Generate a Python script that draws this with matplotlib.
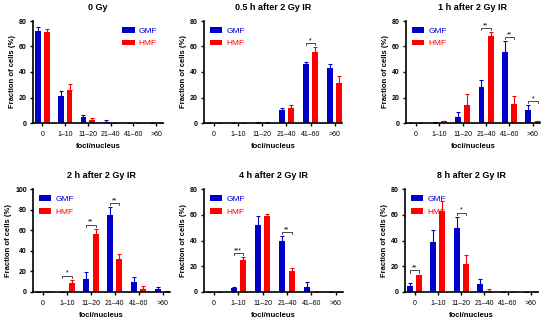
import matplotlib
matplotlib.use('Agg')
import matplotlib.pyplot as plt
import numpy as np

plt.rcParams['font.family'] = ['Liberation Sans', 'DejaVu Sans']

categories = ['0', '1\u201310', '11\u201320', '21\u201340', '41\u201360', '>60']
titles = ['0 Gy', '0.5 h after 2 Gy IR', '1 h after 2 Gy IR',
          '2 h after 2 Gy IR', '4 h after 2 Gy IR', '8 h after 2 Gy IR']

gmf_0 = [72, 21, 5, 1, 0, 0]
gmf_0_err = [3, 4, 1.5, 1, 0, 0]
hmf_0 = [71, 26, 2, 0, 0, 0]
hmf_0_err = [3, 4.5, 2, 0, 0, 0]

gmf_05 = [0, 0, 0.3, 10, 46, 43.5]
gmf_05_err = [0, 0, 0.2, 1.5, 2, 3]
hmf_05 = [0, 0, 0.3, 12, 56, 31.5]
hmf_05_err = [0, 0, 0.2, 2.5, 3.5, 5.5]

gmf_1 = [0, 0.3, 4.5, 28.5, 56, 10.5]
gmf_1_err = [0, 0.3, 4, 5.5, 8.5, 3.5]
hmf_1 = [0, 1.3, 14.5, 68, 15, 1.3]
hmf_1_err = [0, 0.5, 8, 3, 6.5, 0.5]

gmf_2 = [0, 0, 12.5, 75, 9.5, 3]
gmf_2_err = [0, 0, 6.5, 7.5, 5, 2]
hmf_2 = [0, 8.5, 56.5, 32, 3, 0.3]
hmf_2_err = [0, 3.5, 5, 5, 3, 0.3]

gmf_4 = [0, 3, 52, 40, 3.5, 0.3]
gmf_4_err = [0, 1, 7, 3.5, 4.5, 0]
hmf_4 = [0, 24.5, 59, 16, 0.3, 0]
hmf_4_err = [0, 2.5, 1.5, 2.5, 0, 0]

gmf_8 = [4.5, 38.5, 50, 6, 0, 0]
gmf_8_err = [2.5, 9.5, 8.5, 4, 0, 0]
hmf_8 = [13, 63, 22, 1, 0, 0]
hmf_8_err = [0.5, 8, 7, 1, 0, 0]

# significance marks: (category index, stars)
sig_0 = []
sig_05 = [(4, '*')]
sig_1 = [(3, '**'), (4, '**'), (5, '*')]
sig_2 = [(1, '*'), (2, '**'), (3, '**')]
sig_4 = [(1, '***'), (3, '**')]
sig_8 = [(0, '**'), (2, '*')]

panels = [
    (gmf_0, gmf_0_err, hmf_0, hmf_0_err, sig_0, 80),
    (gmf_05, gmf_05_err, hmf_05, hmf_05_err, sig_05, 80),
    (gmf_1, gmf_1_err, hmf_1, hmf_1_err, sig_1, 80),
    (gmf_2, gmf_2_err, hmf_2, hmf_2_err, sig_2, 100),
    (gmf_4, gmf_4_err, hmf_4, hmf_4_err, sig_4, 80),
    (gmf_8, gmf_8_err, hmf_8, hmf_8_err, sig_8, 80),
]

# pixel boxes (left, right, top, bottom)
boxes = [(33, 163, 21, 123), (204, 342, 21, 123), (406, 540, 21, 123),
         (33, 170, 189, 292), (204, 343, 189, 292), (405, 538, 189, 292)]
leg_loc = ['upper right', 'upper left', 'upper left',
           'upper left', 'upper left', 'upper left']

W, H = 550, 322
blue = '#0000cc'
red = '#ff0000'

fig = plt.figure(figsize=(5.5, 3.22), dpi=100)
x = np.arange(len(categories))
bw = 0.25
off = 0.195

for i, (g, ge, h, he, sig, ymax) in enumerate(panels):
    l, r, t, b = boxes[i]
    ax = fig.add_axes([l / W, (H - b) / H, (r - l) / W, (b - t) / H])
    ax.bar(x - off, g, bw, color=blue, label='GMF', zorder=2)
    ax.bar(x + off, h, bw, color=red, label='HMF', zorder=2)
    ax.errorbar(x - off, g, yerr=[np.zeros(len(g)), ge], fmt='none',
                ecolor=blue, elinewidth=0.8, capsize=1.5, capthick=0.8, zorder=1)
    ax.errorbar(x + off, h, yerr=[np.zeros(len(h)), he], fmt='none',
                ecolor=red, elinewidth=0.8, capsize=1.5, capthick=0.8, zorder=1)
    d = ymax / 50
    for k, s in sig:
        top = max(g[k] + ge[k], h[k] + he[k]) + 2 * d
        ax.plot([k - off, k - off, k + off, k + off], [top - d, top, top, top - d],
                color='black', lw=0.5)
        ax.text(k, top - 0.6 * d, s, ha='center', va='bottom', fontsize=5)
    ax.set_xlim(-0.41, 5.3)
    ax.set_ylim(0, ymax)
    ax.set_yticks(np.arange(0, ymax + 1, 20))
    ax.set_xticks(x)
    ax.set_xticklabels(categories)
    for sp in ['top', 'right']:
        ax.spines[sp].set_visible(False)
    for sp in ['left', 'bottom']:
        ax.spines[sp].set_linewidth(1.2)
    ax.tick_params(axis='both', labelsize=5, width=1.0, length=2.5, pad=2)
    ax.tick_params(axis='x', pad=3)
    for lab in ax.get_yticklabels():
        lab.set_fontweight('bold')
    ax.set_ylabel('Fraction of cells (%)', fontsize=5.5, fontweight='bold', labelpad=2)
    ax.set_xlabel('foci/nucleus', fontsize=5.5, fontweight='bold', labelpad=4)
    ax.set_title(titles[i], fontsize=6.5, fontweight='bold', pad=8)
    leg = ax.legend(loc=leg_loc[i], frameon=False, fontsize=6,
                    handlelength=1.5, handleheight=0.7, handletextpad=0.5,
                    labelspacing=0.6, borderaxespad=0.3)
    for txt, c in zip(leg.get_texts(), [blue, red]):
        txt.set_color(c)

fig.savefig('out.png', dpi=100)
